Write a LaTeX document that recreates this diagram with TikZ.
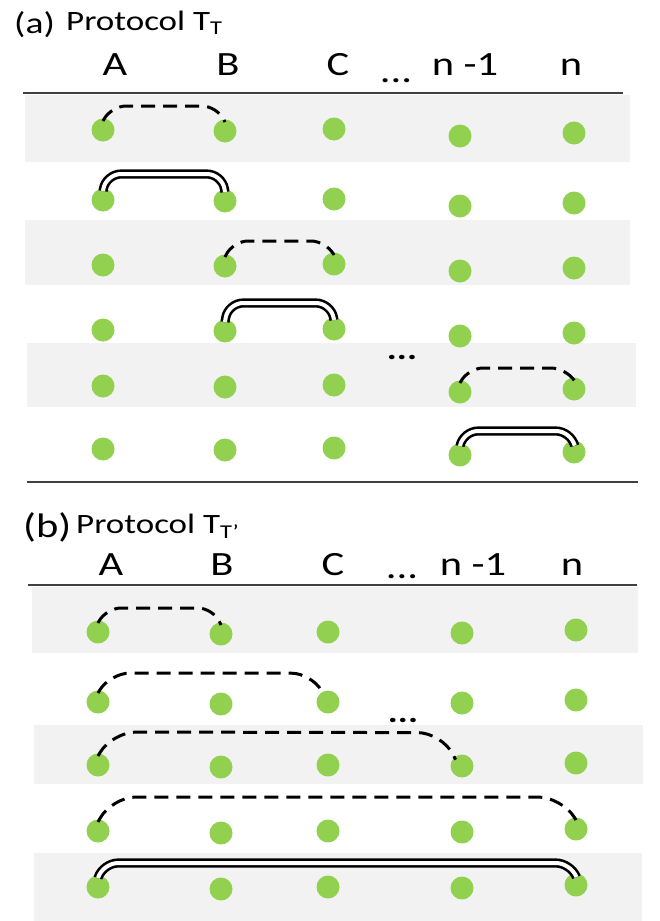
\documentclass[tikz,border=0pt]{standalone}
\usepackage{fontspec}
\setmainfont{Carlito}[FakeStretch=1.25]
\usetikzlibrary{calc}
\definecolor{dotGreen}{RGB}{146, 208, 80}
\definecolor{bandGray}{RGB}{242, 242, 242}
\definecolor{ruleGray}{RGB}{64, 64, 64}
\tikzset{
    % Qubit Dot Style
    qubit/.style={
        circle,
        fill=dotGreen,
        minimum size=23pt,
        inner sep=0pt,
        outer sep=-2.5pt
    },
    % Band & Rule Styles
    band/.style={fill=bandGray},
    rule/.style={draw=ruleGray, line width=1.5pt},
    % Link Styles
    link/.style={rounded corners=15pt},
    pairLink/.style={link, line width=3pt, dash pattern=on 14pt off 8pt},
    entLink/.style={link, draw=black, double=white, line width=2.6pt, double distance=4pt},
    % Text Styles
    panelLabel/.style={anchor=base west, inner sep=0pt, font=\fontsize{30}{36}\selectfont},
    protoLabel/.style={anchor=base west, inner sep=0pt, font=\fontsize{28}{34}\selectfont},
    partyLabel/.style={anchor=base, inner sep=0pt, font=\fontsize{34}{40}\selectfont},
    rowDots/.style={anchor=base, inner sep=0pt, font=\bfseries\fontsize{30}{36}\selectfont}
}

\begin{document}
\begin{tikzpicture}[x=1pt, y=-1pt]

    \useasboundingbox (0,0) rectangle (660,921);

    % --- PANEL (a): Protocol T_T ---

    % Background bands
    \fill[band] (25,95) rectangle (630,162);
    \fill[band] (25,220) rectangle (630,285);
    \fill[band] (27,343) rectangle (636,407);
    \draw[rule] (23,93) -- (623,93);
    \draw[rule] (27,482) -- (638,482);

    % Titles
    \node[panelLabel] (capA) at (14,33) {(a)};
    \node[protoLabel] (protoA) at (66,30) {Protocol T\textsubscript{T}};

    % Parties
    \node[partyLabel] (headA1) at (115,75) {A};
    \node[partyLabel] (headA2) at (228,75) {B};
    \node[partyLabel] (headA3) at (338,75) {C};
    \node[partyLabel] (headAdots) at (396,82) {...};
    \node[partyLabel] (headA4) at (465,75) {n -1};
    \node[partyLabel] (headA5) at (571,75) {n};

    % Qubits
    \foreach \r/\y in {1/130,2/200,3/265,4/330,5/386,6/449}
        \foreach \c/\x/\dy in {1/103/0,2/225/1,3/334/-1,4/460/6,5/574/3}
            \node[qubit] (a\r\c) at (\x,\y+\dy) {};
    \node[rowDots] (skipA) at (402,359) {...};

    % Links
    \draw[pairLink] (a11.north) -- ++(8,-15) -- ($(a12.north)+(-8,-16)$) -- (a12.north);
    \draw[entLink] (a21.north) -- ++(3,-17) -- ($(a22.north)+(-3,-18)$) -- (a22.north);
    \draw[pairLink] (a32.north) -- ++(8,-16) -- ($(a33.north)+(-8,-14)$) -- (a33.north);
    \draw[entLink] (a42.north) -- ++(3,-19) -- ($(a43.north)+(-3,-17)$) -- (a43.north);
    \draw[pairLink] (a54.north) -- ++(8,-15) -- ($(a55.north)+(-8,-12)$) -- (a55.north);
    \draw[entLink] (a64.north) -- ++(3,-15) -- ($(a65.north)+(-3,-12)$) -- (a65.north);

    % --- PANEL (b): Protocol T_T' ---

    % Background bands
    \fill[band] (32,587) rectangle (638,653);
    \fill[band] (34,725) rectangle (643,784);
    \fill[band] (34,853) rectangle (642,921);
    \draw[rule] (28,585) -- (637,585);

    % Titles
    \node[panelLabel, font=\fontsize{34}{40}\selectfont] (capB) at (23,537) {(b)};
    \node[protoLabel] (protoB) at (76,533) {Protocol T\textsubscript{T'}};

    % Parties
    \node[partyLabel] (headB1) at (111,575) {A};
    \node[partyLabel] (headB2) at (222,575) {B};
    \node[partyLabel] (headB3) at (333,575) {C};
    \node[partyLabel] (headBdots) at (402,578) {...};
    \node[partyLabel] (headB4) at (473,575) {n -1};
    \node[partyLabel] (headB5) at (572,575) {n};

    % Qubits
    \foreach \r/\y in {1/632,2/702,3/765,4/831,5/887}
        \foreach \c/\x/\dy in {1/98/0,2/221/2,3/328/0,4/462/1,5/576/-2}
            \node[qubit] (b\r\c) at (\x,\y+\dy) {};
    \node[rowDots] (skipB) at (403,722) {...};

    % Links
    \draw[pairLink] (b11.north) -- ++(8,-15) -- ($(b12.north)+(-8,-17)$) -- (b12.north);
    \draw[pairLink, rounded corners=20pt] (b21.north) -- ++(12,-20) -- ($(b23.120)+(-12,-21)$) -- (b23.120);
    \draw[pairLink, rounded corners=24pt] (b31.north) -- ++(14,-24) -- ($(b34.135)+(-14,-27)$) -- (b34.135);
    \draw[pairLink, rounded corners=24pt] (b41.north) -- ++(14,-25) -- ($(b45.north)+(-14,-23)$) -- (b45.north);
    \draw[entLink] (b51.north) -- ++(5,-15) -- ($(b55.north)+(-5,-13)$) -- (b55.north);

\end{tikzpicture}
\end{document}
